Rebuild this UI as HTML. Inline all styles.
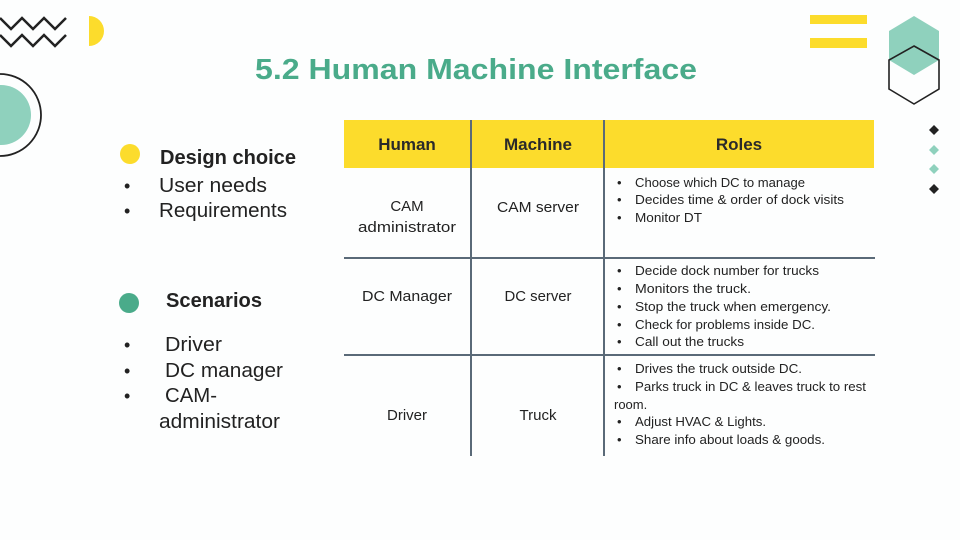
<!DOCTYPE html>
<html><head><meta charset="utf-8"><style>
html,body{margin:0;padding:0;background:#fdfefe;}
svg{display:block;}
text{font-family:"Liberation Sans",sans-serif;}
</style></head><body>
<svg width="960" height="540" viewBox="0 0 960 540" xmlns="http://www.w3.org/2000/svg">
<rect width="960" height="540" fill="#fdfefe"/>
<polyline points="0,18 11,29 22,18 33,29 44,18 55,29 66,18" fill="none" stroke="#222" stroke-width="2.5"/>
<polyline points="0,35 11,46 22,35 33,46 44,35 55,46 66,35" fill="none" stroke="#222" stroke-width="2.5"/>
<path d="M89,16 A15,15 0 0 1 89,46 Z" fill="#fcdc2c"/>
<circle cx="0" cy="115" r="41" fill="none" stroke="#222" stroke-width="1.8"/>
<circle cx="1" cy="115" r="30" fill="#8fd1bd"/>
<rect x="810" y="15" width="57" height="9" fill="#fcdc2c"/>
<rect x="810" y="38" width="57" height="10" fill="#fcdc2c"/>
<polygon points="914,16 939,31 939,60 914,75 889,60 889,31" fill="#8fd1bd"/>
<polygon points="914,46 939,60 939,89 914,104 889,89 889,60" fill="none" stroke="#222" stroke-width="1.6"/>
<polygon points="934,125 939,130 934,135 929,130" fill="#222"/>
<polygon points="934,145 939,150 934,155 929,150" fill="#8fd1bd"/>
<polygon points="934,164 939,169 934,174 929,169" fill="#8fd1bd"/>
<polygon points="934,184 939,189 934,194 929,189" fill="#222"/>
<text x="476" y="79" text-anchor="middle" font-size="29" font-weight="bold" fill="#4aab8a" textLength="442" lengthAdjust="spacingAndGlyphs">5.2 Human Machine Interface</text>
<circle cx="130" cy="154" r="10" fill="#fcdc2c"/>
<text x="160" y="164" font-size="20" font-weight="bold" fill="#222" textLength="136" lengthAdjust="spacingAndGlyphs">Design choice</text>
<g font-size="20" fill="#222">
<text x="124" y="192" font-size="18">•</text>
<text x="159" y="192" textLength="108" lengthAdjust="spacingAndGlyphs">User needs</text>
<text x="124" y="217" font-size="18">•</text>
<text x="159" y="217" textLength="128" lengthAdjust="spacingAndGlyphs">Requirements</text>
</g>
<circle cx="129" cy="303" r="10" fill="#4aab8a"/>
<text x="166" y="307" font-size="20" font-weight="bold" fill="#222" textLength="96" lengthAdjust="spacingAndGlyphs">Scenarios</text>
<g font-size="20" fill="#222">
<text x="124" y="351" font-size="18">•</text>
<text x="165" y="351" textLength="57" lengthAdjust="spacingAndGlyphs">Driver</text>
<text x="124" y="377" font-size="18">•</text>
<text x="165" y="377" textLength="118" lengthAdjust="spacingAndGlyphs">DC manager</text>
<text x="124" y="402" font-size="18">•</text>
<text x="165" y="402" textLength="52" lengthAdjust="spacingAndGlyphs">CAM-</text>
<text x="159" y="428" textLength="121" lengthAdjust="spacingAndGlyphs">administrator</text>
</g>
<rect x="344" y="120" width="530" height="48" fill="#fcdc2c"/>
<g font-size="17" font-weight="bold" fill="#2a2a2a" text-anchor="middle">
<text x="407" y="150">Human</text>
<text x="538" y="150">Machine</text>
<text x="739" y="150">Roles</text>
</g>
<g stroke="#5a6a78" stroke-width="2">
<line x1="471" y1="120" x2="471" y2="456"/>
<line x1="604" y1="120" x2="604" y2="456"/>
<line x1="344" y1="258" x2="875" y2="258"/>
<line x1="344" y1="355" x2="875" y2="355"/>
</g>
<g font-size="15" fill="#222" text-anchor="middle">
<text x="407" y="211">CAM</text>
<text x="407" y="232" textLength="98" lengthAdjust="spacingAndGlyphs">administrator</text>
<text x="538" y="212" textLength="82" lengthAdjust="spacingAndGlyphs">CAM server</text>
<text x="407" y="301" textLength="90" lengthAdjust="spacingAndGlyphs">DC Manager</text>
<text x="538" y="301" textLength="67" lengthAdjust="spacingAndGlyphs">DC server</text>
<text x="407" y="420">Driver</text>
<text x="538" y="420">Truck</text>
</g>
<g font-size="13" fill="#222">
<text x="617" y="187">•</text><text x="635" y="187" textLength="170" lengthAdjust="spacingAndGlyphs">Choose which DC to manage</text>
<text x="617" y="204">•</text><text x="635" y="204" textLength="209" lengthAdjust="spacingAndGlyphs">Decides time &amp; order of dock visits</text>
<text x="617" y="222">•</text><text x="635" y="222" textLength="67" lengthAdjust="spacingAndGlyphs">Monitor DT</text>
<text x="617" y="275">•</text><text x="635" y="275" textLength="184" lengthAdjust="spacingAndGlyphs">Decide dock number for trucks</text>
<text x="617" y="293">•</text><text x="635" y="293" textLength="116" lengthAdjust="spacingAndGlyphs">Monitors the truck.</text>
<text x="617" y="311">•</text><text x="635" y="311" textLength="196" lengthAdjust="spacingAndGlyphs">Stop the truck when emergency.</text>
<text x="617" y="329">•</text><text x="635" y="329" textLength="180" lengthAdjust="spacingAndGlyphs">Check for problems inside DC.</text>
<text x="617" y="346">•</text><text x="635" y="346" textLength="109" lengthAdjust="spacingAndGlyphs">Call out the trucks</text>
<text x="617" y="373">•</text><text x="635" y="373" textLength="167" lengthAdjust="spacingAndGlyphs">Drives the truck outside DC.</text>
<text x="617" y="391">•</text><text x="635" y="391" textLength="231" lengthAdjust="spacingAndGlyphs">Parks truck in DC &amp; leaves truck to rest</text>
<text x="614" y="409">room.</text>
<text x="617" y="426">•</text><text x="635" y="426" textLength="131" lengthAdjust="spacingAndGlyphs">Adjust HVAC &amp; Lights.</text>
<text x="617" y="444">•</text><text x="635" y="444" textLength="190" lengthAdjust="spacingAndGlyphs">Share info about loads &amp; goods.</text>
</g>
</svg>
</body></html>
